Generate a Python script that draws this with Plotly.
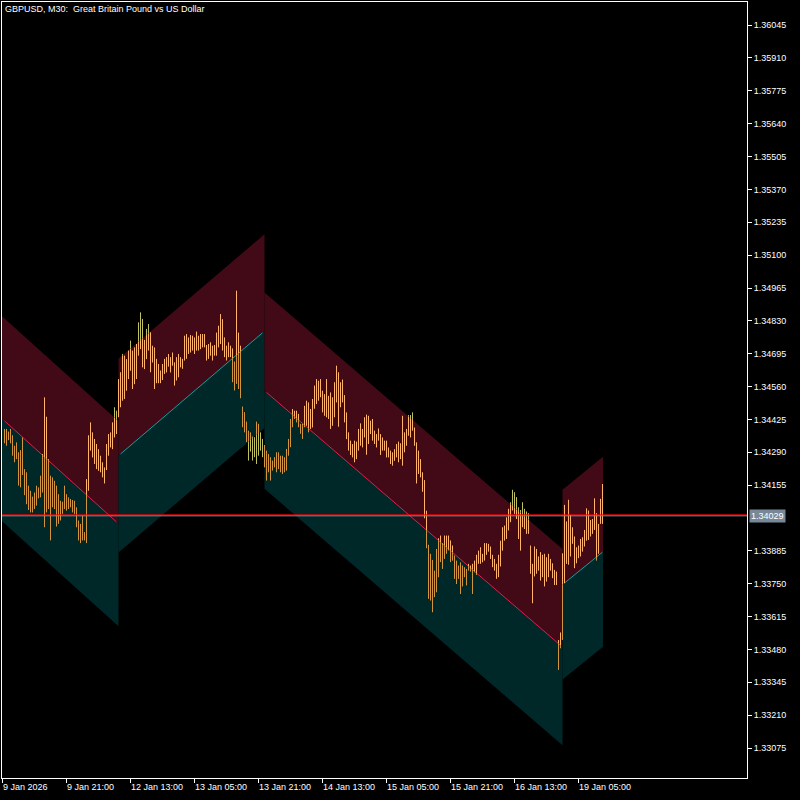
import plotly.graph_objects as go

chart_title = "GBPUSD, M30:\u00a0 Great Britain Pound vs US Dollar"

# ---- M30 bars (high / low), oldest first ----
bar_high = [
    1.34386, 1.34386, 1.34375, 1.34386, 1.34360, 1.34317, 1.34331, 1.34290, 1.34299, 1.34351,
    1.34221, 1.34208, 1.34153, 1.34132, 1.34108, 1.34125, 1.34153, 1.34146, 1.34194, 1.34283,
    1.34516, 1.34436, 1.34262, 1.34194, 1.34187, 1.34173, 1.34153, 1.34118, 1.34091, 1.34087,
    1.34153, 1.34118, 1.34105, 1.34098, 1.34094, 1.34091, 1.34064, 1.34010, 1.33996, 1.34030,
    1.33962, 1.34180, 1.34360, 1.34413, 1.34372, 1.34345, 1.34324, 1.34303, 1.34276, 1.34249,
    1.34228, 1.34324, 1.34365, 1.34372, 1.34413, 1.34475, 1.34461, 1.34591, 1.34619, 1.34694,
    1.34687, 1.34673, 1.34708, 1.34749, 1.34708, 1.34721, 1.34735, 1.34824, 1.34865, 1.34838,
    1.34752, 1.34797, 1.34817, 1.34783, 1.34728, 1.34721, 1.34674, 1.34653, 1.34626, 1.34653,
    1.34674, 1.34681, 1.34694, 1.34681, 1.34700, 1.34660, 1.34681, 1.34694, 1.34681, 1.34674,
    1.34769, 1.34776, 1.34762, 1.34772, 1.34769, 1.34762, 1.34786, 1.34769, 1.34776, 1.34776,
    1.34776, 1.34731, 1.34735, 1.34742, 1.34728, 1.34731, 1.34782, 1.34810, 1.34858, 1.34837,
    1.34762, 1.34728, 1.34742, 1.34728, 1.34717, 1.34663, 1.34954, 1.34782, 1.34728, 1.34478,
    1.34455, 1.34416, 1.34379, 1.34372, 1.34355, 1.34352, 1.34416, 1.34407, 1.34372, 1.34345,
    1.34320, 1.34297, 1.34283, 1.34270, 1.34256, 1.34270, 1.34290, 1.34290, 1.34276, 1.34276,
    1.34270, 1.34304, 1.34345, 1.34427, 1.34468, 1.34461, 1.34461, 1.34448, 1.34407, 1.34407,
    1.34481, 1.34502, 1.34495, 1.34468, 1.34509, 1.34564, 1.34591, 1.34584, 1.34591, 1.34543,
    1.34529, 1.34591, 1.34522, 1.34536, 1.34516, 1.34578, 1.34646, 1.34619, 1.34578, 1.34589,
    1.34525, 1.34454, 1.34372, 1.34338, 1.34324, 1.34338, 1.34334, 1.34386, 1.34409, 1.34386,
    1.34434, 1.34445, 1.34440, 1.34420, 1.34427, 1.34379, 1.34365, 1.34388, 1.34365, 1.34351,
    1.34338, 1.34338, 1.34310, 1.34297, 1.34290, 1.34303, 1.34324, 1.34334, 1.34327, 1.34440,
    1.34372, 1.34386, 1.34443, 1.34443, 1.34454, 1.34392, 1.34331, 1.34297, 1.34262, 1.34208,
    1.34176, 1.34050, 1.33910, 1.33873, 1.33848, 1.33804, 1.33893, 1.33937, 1.33948, 1.33917,
    1.33948, 1.33948, 1.33948, 1.33928, 1.33907, 1.33866, 1.33845, 1.33825, 1.33838, 1.33825,
    1.33818, 1.33811, 1.33832, 1.33825, 1.33832, 1.33845, 1.33869, 1.33886, 1.33900, 1.33873,
    1.33917, 1.33917, 1.33914, 1.33903, 1.33869, 1.33852, 1.33832, 1.33869, 1.33927, 1.33982,
    1.33989, 1.34023, 1.34058, 1.34085, 1.34136, 1.34126, 1.34106, 1.34064, 1.34053, 1.34085,
    1.34058, 1.34047, 1.34040, 1.33907, 1.33832, 1.33903, 1.33893, 1.33862, 1.33880, 1.33869,
    1.33873, 1.33859, 1.33873, 1.33852, 1.33834, 1.33807, 1.33800, 1.33519, 1.33550, 1.33875,
    1.34074, 1.34006, 1.34095, 1.34033, 1.33982, 1.33944, 1.33900, 1.33907, 1.33934, 1.33941,
    1.33971, 1.34060, 1.34051, 1.34012, 1.34016, 1.34101, 1.34040, 1.33996, 1.34099, 1.34160,
]
bar_low = [
    1.34327, 1.34317, 1.34340, 1.34327, 1.34276, 1.34249, 1.34262, 1.34153, 1.34146, 1.34197,
    1.34114, 1.34077, 1.34053, 1.34043, 1.34043, 1.34057, 1.34071, 1.34101, 1.34105, 1.34125,
    1.33982, 1.34043, 1.34057, 1.33928, 1.34064, 1.34057, 1.33985, 1.33996, 1.34010, 1.34037,
    1.34057, 1.34050, 1.34057, 1.34064, 1.34043, 1.34037, 1.33982, 1.33928, 1.33917, 1.33928,
    1.33928, 1.33917, 1.34132, 1.34297, 1.34269, 1.34242, 1.34221, 1.34214, 1.34208, 1.34187,
    1.34162, 1.34217, 1.34276, 1.34310, 1.34303, 1.34351, 1.34365, 1.34434, 1.34475, 1.34502,
    1.34509, 1.34543, 1.34591, 1.34625, 1.34550, 1.34570, 1.34591, 1.34687, 1.34714, 1.34639,
    1.34632, 1.34673, 1.34708, 1.34619, 1.34659, 1.34550, 1.34574, 1.34574, 1.34574, 1.34587,
    1.34612, 1.34618, 1.34642, 1.34618, 1.34646, 1.34564, 1.34585, 1.34598, 1.34639, 1.34633,
    1.34667, 1.34674, 1.34694, 1.34700, 1.34708, 1.34694, 1.34708, 1.34708, 1.34714, 1.34721,
    1.34721, 1.34667, 1.34674, 1.34687, 1.34667, 1.34687, 1.34687, 1.34721, 1.34735, 1.34708,
    1.34681, 1.34667, 1.34681, 1.34681, 1.34578, 1.34544, 1.34571, 1.34550, 1.34512, 1.34393,
    1.34372, 1.34332, 1.34256, 1.34293, 1.34256, 1.34270, 1.34242, 1.34276, 1.34297, 1.34270,
    1.34228, 1.34174, 1.34208, 1.34174, 1.34215, 1.34228, 1.34208, 1.34221, 1.34208, 1.34201,
    1.34208, 1.34215, 1.34276, 1.34311, 1.34393, 1.34427, 1.34413, 1.34393, 1.34366, 1.34345,
    1.34393, 1.34399, 1.34372, 1.34386, 1.34392, 1.34469, 1.34488, 1.34502, 1.34516, 1.34454,
    1.34440, 1.34434, 1.34427, 1.34386, 1.34399, 1.34434, 1.34495, 1.34395, 1.34475, 1.34495,
    1.34413, 1.34344, 1.34297, 1.34279, 1.34269, 1.34249, 1.34262, 1.34297, 1.34317, 1.34310,
    1.34351, 1.34280, 1.34324, 1.34365, 1.34338, 1.34324, 1.34310, 1.34338, 1.34279, 1.34297,
    1.34297, 1.34269, 1.34269, 1.34242, 1.34235, 1.34255, 1.34269, 1.34249, 1.34262, 1.34235,
    1.34290, 1.34317, 1.34358, 1.34351, 1.34379, 1.34317, 1.34162, 1.34201, 1.34187, 1.34128,
    1.34019, 1.33896, 1.33688, 1.33681, 1.33633, 1.33695, 1.33715, 1.33777, 1.33839, 1.33811,
    1.33852, 1.33873, 1.33887, 1.33839, 1.33845, 1.33770, 1.33749, 1.33770, 1.33708, 1.33739,
    1.33777, 1.33743, 1.33804, 1.33800, 1.33708, 1.33797, 1.33786, 1.33832, 1.33832, 1.33838,
    1.33845, 1.33869, 1.33882, 1.33852, 1.33818, 1.33804, 1.33770, 1.33777, 1.33821, 1.33886,
    1.33927, 1.33934, 1.33969, 1.34003, 1.34051, 1.34037, 1.34016, 1.33934, 1.33886, 1.33982,
    1.33975, 1.33955, 1.33955, 1.33791, 1.33670, 1.33780, 1.33791, 1.33804, 1.33763, 1.33777,
    1.33739, 1.33759, 1.33777, 1.33804, 1.33773, 1.33745, 1.33745, 1.33396, 1.33485, 1.33519,
    1.33752, 1.33832, 1.33828, 1.33862, 1.33914, 1.33814, 1.33834, 1.33855, 1.33862, 1.33882,
    1.33903, 1.33927, 1.33930, 1.33944, 1.33955, 1.33971, 1.33845, 1.33873, 1.33996, 1.33996,
]

# ---- channel indicator: segments (bar index range, middle line ends, half width) ----
seg_start = [0, 58, 131, 280]
seg_end = [56, 129, 278, 299]
seg_mid_start = [1.34419, 1.34283, 1.34536, 1.33753]
seg_mid_end = [1.34004, 1.34781, 1.33497, 1.33880]
seg_half_width = [0.00421, 0.00398, 0.00403, 0.00390]

# ---- axis labels ----
time_labels = ["9 Jan 2026", "9 Jan 21:00", "12 Jan 13:00", "13 Jan 05:00", "13 Jan 21:00",
               "14 Jan 13:00", "15 Jan 05:00", "15 Jan 21:00", "16 Jan 13:00", "19 Jan 05:00"]
time_label_bar = [-1, 31, 63, 95, 127, 159, 191, 223, 255, 287]
price_tick_labels = ["1.33075", "1.33210", "1.33345", "1.33480", "1.33615", "1.33750", "1.33885",
                     "1.34155", "1.34290", "1.34425", "1.34560", "1.34695", "1.34830",
                     "1.34965", "1.35100", "1.35235", "1.35370", "1.35505", "1.35640", "1.35775",
                     "1.35910", "1.36045"]
bid_price = 1.34029
ask_price = 1.34033

X_MIN, X_MAX = -1.25, 371.25
Y_MIN, Y_MAX = 1.32952, 1.36140

RED_FILL = "#420A16"
TEAL_FILL = "#012828"
PEACH = "#FFB468"
GOLD = "#D2943F"
OLIVE = "#C0C05E"
FONT = "Liberation Sans"

fig = go.Figure()

# extended drawing bounds of every segment (meeting half way between segments)
n_seg = len(seg_start)
ext_lo, ext_hi = [], []
for k in range(n_seg):
    lo_b = X_MIN if k == 0 else (seg_end[k - 1] + seg_start[k]) / 2
    hi_b = seg_end[k] + 0.25 if k == n_seg - 1 else (seg_end[k] + seg_start[k + 1]) / 2
    ext_lo.append(lo_b)
    ext_hi.append(hi_b)


def mid_at(k, x):
    s, e = seg_start[k], seg_end[k]
    return seg_mid_start[k] + (seg_mid_end[k] - seg_mid_start[k]) * (x - s) / (e - s)


for k in range(n_seg):
    xa, xb = ext_lo[k], ext_hi[k]
    ma, mb = mid_at(k, xa), mid_at(k, xb)
    hw = seg_half_width[k]
    fig.add_trace(go.Scatter(x=[xa, xb, xb, xa, xa], y=[ma + hw, mb + hw, mb, ma, ma + hw],
                             fill="toself", fillcolor=RED_FILL, mode="lines",
                             line=dict(width=0, color=RED_FILL), hoverinfo="skip"))
    fig.add_trace(go.Scatter(x=[xa, xb, xb, xa, xa], y=[ma, mb, mb - hw, ma - hw, ma],
                             fill="toself", fillcolor=TEAL_FILL, mode="lines",
                             line=dict(width=0, color=TEAL_FILL), hoverinfo="skip"))

for k in range(n_seg):
    down = seg_mid_end[k] < seg_mid_start[k]
    fig.add_trace(go.Scatter(x=[seg_start[k], seg_end[k]], y=[seg_mid_start[k], seg_mid_end[k]],
                             mode="lines", line=dict(width=1, color="#E0204C" if down else "#1E9C9C"),
                             hoverinfo="skip"))

# bars, coloured by the zone they are painted over
pieces = {PEACH: ([], []), GOLD: ([], []), OLIVE: ([], [])}
for i, (h, l) in enumerate(zip(bar_high, bar_low)):
    seg = None
    for k in range(n_seg):
        if ext_lo[k] <= i < ext_hi[k]:
            seg = k
            break
    if seg is None:
        parts = [(l, h, OLIVE)]
    else:
        m = mid_at(seg, i)
        hw = seg_half_width[seg]
        up, dn = m + hw, m - hw
        parts = [(l, min(h, dn), OLIVE), (max(l, dn), min(h, m), GOLD),
                 (max(l, m), min(h, up), PEACH), (max(l, up), h, OLIVE)]
    for a, b, c in parts:
        if b > a:
            xs, ys = pieces[c]
            xs += [i, i, None]
            ys += [a, b, None]

for c, (xs, ys) in pieces.items():
    fig.add_trace(go.Scatter(x=xs, y=ys, mode="lines", line=dict(width=1, color=c),
                             hoverinfo="skip", connectgaps=False))

# bid / ask lines
fig.add_shape(type="line", xref="paper", x0=0, x1=1, y0=ask_price, y1=ask_price,
              line=dict(color="#FF0000", width=1))
fig.add_shape(type="line", xref="paper", x0=0, x1=1, y0=bid_price, y1=bid_price,
              line=dict(color="#778899", width=1))

annotations = [dict(text=chart_title, xref="paper", yref="paper", x=0, y=1, xanchor="left",
                    yanchor="top", xshift=1, yshift=0, showarrow=False,
                    font=dict(family=FONT, size=9, color="white"))]
for lbl, xb in zip(time_labels, time_label_bar):
    annotations.append(dict(text=lbl, xref="x", yref="paper", x=xb, y=0, xanchor="left",
                            yanchor="top", xshift=-2, yshift=-2, showarrow=False,
                            font=dict(family=FONT, size=9, color="white")))
annotations.append(dict(text=f"{bid_price:.5f}", xref="paper", yref="y", x=1, y=bid_price,
                        xanchor="left", yanchor="middle", xshift=2, showarrow=False,
                        bgcolor="#778899", borderpad=1,
                        font=dict(family=FONT, size=9, color="white")))

fig.update_layout(
    width=800, height=800,
    margin=dict(l=2, r=53, t=2, b=22),
    paper_bgcolor="black", plot_bgcolor="black",
    showlegend=False,
    annotations=annotations,
    xaxis=dict(range=[X_MIN, X_MAX], showgrid=False, zeroline=False, showline=True,
               linecolor="white", linewidth=1, mirror=True, ticks="outside", ticklen=4,
               tickcolor="white", tickvals=time_label_bar, showticklabels=False, fixedrange=True),
    yaxis=dict(range=[Y_MIN, Y_MAX], side="right", showgrid=False, zeroline=False, showline=True,
               linecolor="white", linewidth=1, mirror=True, ticks="outside", ticklen=4,
               tickcolor="white", tickvals=[float(t) for t in price_tick_labels],
               ticktext=price_tick_labels, tickfont=dict(family=FONT, size=9, color="white"),
               fixedrange=True),
)

fig.write_html("out.html", config={"displayModeBar": False},
               post_script="document.body.style.margin='0px';document.body.style.background='black';")
